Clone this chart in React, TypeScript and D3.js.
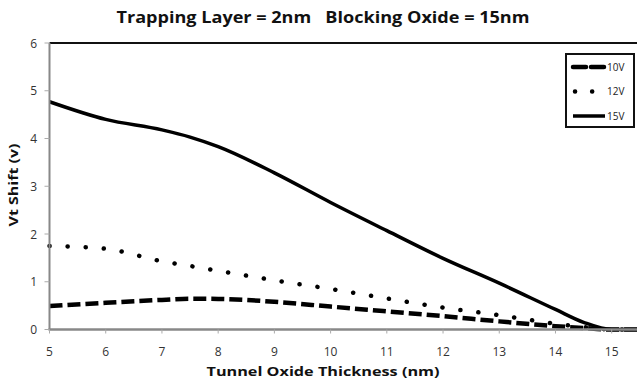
import React from "react";
import * as d3 from "d3";

// Tunnel oxide thickness (nm)
const xs = [5, 6, 7, 7.5, 8, 9, 10, 11, 12, 13, 14, 14.5, 15, 15.45];
// Vt shift (v) per program voltage
const v10 = [0.49, 0.56, 0.62, 0.645, 0.64, 0.58, 0.48, 0.38, 0.28, 0.17, 0.07, 0.03, 0.0, 0.0];
const v12 = [1.75, 1.69, 1.43, 1.33, 1.23, 1.03, 0.85, 0.65, 0.46, 0.3, 0.12, 0.05, 0.0, 0.0];
const v15 = [4.77, 4.4, 4.18, 4.03, 3.83, 3.28, 2.66, 2.07, 1.49, 0.97, 0.42, 0.15, 0.0, 0.0];

const xTicks = [5, 6, 7, 8, 9, 10, 11, 12, 13, 14, 15];
const yTicks = [0, 1, 2, 3, 4, 5, 6];

const series = [
  { name: "10V", values: v10, dash: "13 5", width: 4.5, cap: "butt" },
  { name: "12V", values: v12, dash: "0.1 18", width: 4.5, cap: "round" },
  { name: "15V", values: v15, dash: null, width: 3.5, cap: "butt" },
];

const W = 637;
const H = 381;
const font = "'Open Sans', 'Liberation Sans', sans-serif";

export default function App() {
  const x = d3.scaleLinear().domain([5, 15.45]).range([49.5, 637]);
  const y = d3.scaleLinear().domain([0, 6]).range([329.5, 43]);

  const line = d3
    .line<number>()
    .x((_, i) => x(xs[i]))
    .y((d) => Math.min(y(0), y(d)))
    .curve(d3.curveMonotoneX);

  return (
    <svg width={W} height={H} style={{ position: "absolute", left: 0, top: 0, background: "#fff" }}>
      <text x={323} y={23} textAnchor="middle" fontFamily={font} fontWeight="bold" fontSize={15.5}
        textLength={413} lengthAdjust="spacingAndGlyphs" fill="#111">
        Trapping Layer = 2nm{"\u00a0\u00a0\u00a0"}Blocking Oxide = 15nm
      </text>

      {/* series */}
      {series.map((s) => (
        <path key={s.name} d={line(s.values) || ""} fill="none" stroke="#000"
          strokeWidth={s.width} strokeDasharray={s.dash || undefined} strokeLinecap={s.cap as any} />
      ))}

      {/* axes */}
      <line x1={x(5)} x2={W} y1={y(6)} y2={y(6)} stroke="#111" strokeWidth={2} />
      <line x1={x(5)} x2={x(5)} y1={y(6)} y2={y(0)} stroke="#888" strokeWidth={2} />
      <line x1={x(5) - 1} x2={W} y1={y(0)} y2={y(0)} stroke="#888" strokeWidth={2.5} />

      {yTicks.map((t) => (
        <g key={"y" + t}>
          <line x1={x(5) - 5} x2={x(5)} y1={y(t)} y2={y(t)} stroke="#aaa" strokeWidth={1} />
          <text x={37} y={y(t) + 4.5} textAnchor="end" fontFamily={font} fontSize={12} fill="#333">{t}</text>
        </g>
      ))}
      {xTicks.map((t) => (
        <g key={"x" + t}>
          <line x1={x(t)} x2={x(t)} y1={y(0)} y2={y(0) + 4} stroke="#aaa" strokeWidth={1} />
          <text x={x(t)} y={356} textAnchor="middle" fontFamily={font} fontSize={12} fill="#333">{t}</text>
        </g>
      ))}

      <text x={323} y={376} textAnchor="middle" fontFamily={font} fontWeight="bold" fontSize={12.5}
        textLength={233} lengthAdjust="spacingAndGlyphs" fill="#111">
        Tunnel Oxide Thickness (nm)
      </text>
      <text transform={`translate(18,${185}) rotate(-90)`} textAnchor="middle" fontFamily={font}
        fontWeight="bold" fontSize={12.5} textLength={83} lengthAdjust="spacingAndGlyphs" fill="#111">
        Vt Shift (v)
      </text>

      {/* legend */}
      <rect x={566} y={54} width={68} height={73} fill="#fff" stroke="#111" strokeWidth={2} />
      {series.map((s, i) => {
        const ly = 67 + i * 24.5;
        return (
          <g key={"l" + s.name}>
            {s.name === "12V" ? (
              <line x1={575} x2={594} y1={ly} y2={ly} stroke="#000" strokeWidth={4.5}
                strokeDasharray="0.1 17" strokeLinecap="round" />
            ) : (
              <line x1={573} x2={605} y1={ly} y2={ly} stroke="#000" strokeWidth={s.width}
                strokeDasharray={s.dash || undefined} strokeLinecap={s.name === "10V" ? "round" : "butt"} />
            )}
            <text x={607} y={ly + 3.5} fontFamily={font} fontSize={10} fill="#222">{s.name}</text>
          </g>
        );
      })}
    </svg>
  );
}
